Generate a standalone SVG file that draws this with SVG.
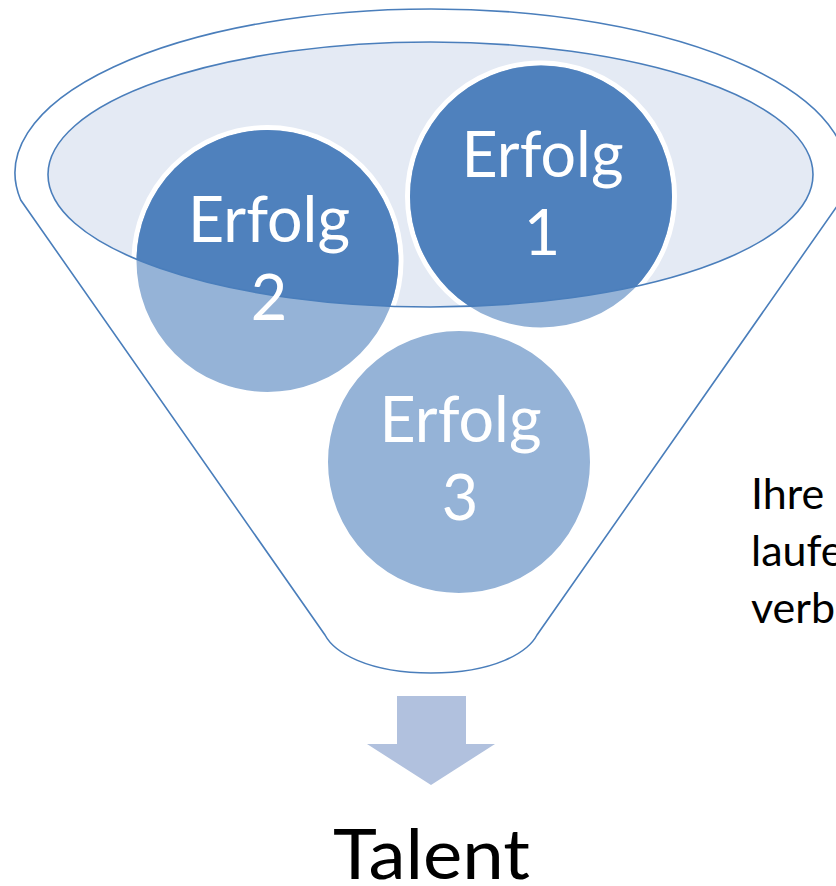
<svg xmlns="http://www.w3.org/2000/svg" width="836" height="886" viewBox="0 0 836 886">
  <style>
    .outline { fill: none; stroke: #4A7EBB; stroke-width: 1.6; }
    .light { fill: #95B3D7; stroke: #FFFFFF; stroke-width: 5; }
    .dark { fill: #4F81BD; }
    .ctext { font-family: Lato, "Open Sans", "Noto Sans", sans-serif; font-size: 63px; fill: #FFFFFF; text-anchor: middle; }
    .btext { font-family: Lato, "Open Sans", "Noto Sans", sans-serif; fill: #000000; }
  </style>
  <defs>
    <clipPath id="innerClip">
      <ellipse cx="430.5" cy="174.5" rx="382.5" ry="132.5"/>
    </clipPath>
  </defs>
  <rect width="836" height="886" fill="#FFFFFF"/>

  <g id="funnel">
    <path class="outline" d="M 20.7,200 A 416 164 0 1 1 841.3,200 L 537,635 C 528,652 495,673 431,673 C 367,673 334,652 325,635 Z"/>
    <ellipse cx="430.5" cy="174.5" rx="382.5" ry="132.5" fill="#E4EAF4"/>
  </g>

  <g id="erfolg1">
    <circle class="light" cx="541" cy="196.5" r="133.5"/>
    <circle class="dark" cx="541" cy="196.5" r="131" clip-path="url(#innerClip)"/>
  </g>
  <g id="erfolg2">
    <circle class="light" cx="267.5" cy="261" r="133.5"/>
    <circle class="dark" cx="267.5" cy="261" r="131" clip-path="url(#innerClip)"/>
  </g>
  <g id="erfolg3">
    <circle class="light" cx="459" cy="462" r="133.5"/>
  </g>

  <g id="rim">
    <ellipse class="outline" cx="430.5" cy="174.5" rx="382.5" ry="132.5"/>
  </g>

  <g id="labels">
    <text class="ctext" x="542.5" y="177" textLength="162" lengthAdjust="spacingAndGlyphs">Erfolg</text>
    <text class="ctext" x="542" y="255">1</text>
    <text class="ctext" x="269" y="242" textLength="162" lengthAdjust="spacingAndGlyphs">Erfolg</text>
    <text class="ctext" x="269" y="320">2</text>
    <text class="ctext" x="460.5" y="442" textLength="162" lengthAdjust="spacingAndGlyphs">Erfolg</text>
    <text class="ctext" x="460" y="520">3</text>
  </g>

  <g id="connectors">
    <polygon points="397,696 466,696 466,744 495,744 431,785 367,744 397,744" fill="#B1C1DE"/>
  </g>

  <g id="talent">
    <text class="btext" x="431.5" y="879" font-size="70" text-anchor="middle" textLength="197" lengthAdjust="spacingAndGlyphs">Talent</text>
  </g>

  <g id="sidetext">
    <text class="btext" x="751" y="509" font-size="43">Ihre</text>
    <text class="btext" x="751" y="566" font-size="43">laufe</text>
    <text class="btext" x="751" y="623" font-size="43">verb</text>
  </g>
</svg>
